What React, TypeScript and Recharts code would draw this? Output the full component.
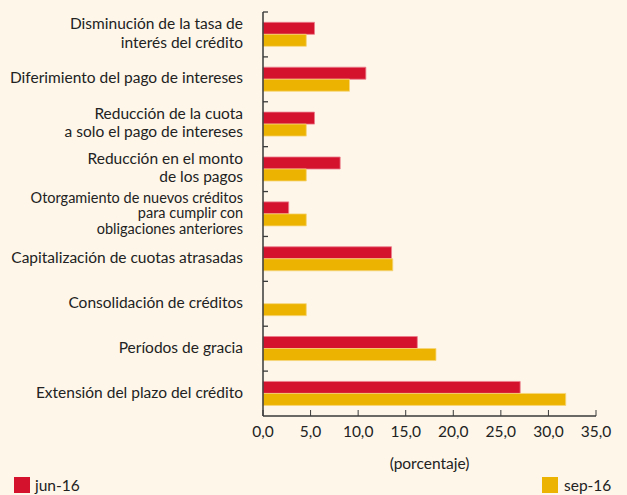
import React from 'react';
import { BarChart, Bar, XAxis, YAxis, Legend } from 'recharts';

const categories = [
  'Disminución de la tasa de\ninterés del crédito',
  'Diferimiento del pago de intereses',
  'Reducción de la cuota\na solo el pago de intereses',
  'Reducción en el monto\nde los pagos',
  'Otorgamiento de nuevos créditos\npara cumplir con\nobligaciones anteriores',
  'Capitalización de cuotas atrasadas',
  'Consolidación de créditos',
  'Períodos de gracia',
  'Extensión del plazo del crédito',
];

const jun16 = [5.41, 10.81, 5.41, 8.11, 2.7, 13.51, 0, 16.22, 27.03];
const sep16 = [4.55, 9.09, 4.55, 4.55, 4.55, 13.64, 4.55, 18.18, 31.82];

const xTicks = [0, 5, 10, 15, 20, 25, 30, 35];

const data = categories.map((name, i) => ({ name, jun: jun16[i], sep: sep16[i] }));

const BG = '#fdf6e9';
const RED = '#d4122e';
const YELLOW = '#edb301';
const AXIS = '#3a3a3a';
const TEXT = '#222';
const FONT = 'Lato, "Open Sans", sans-serif';
const FS = 15.5;
const LABEL_GAP = 20;

// category labels, plus the little ticks on the band boundaries
const CategoryTick = (props: any) => {
  const { x, y, payload } = props;
  const lines = String(payload.value).split('\n');
  const tight = lines.length > 2;
  const lh = tight ? 15.5 : 18.5;
  const y0 = y - 2 - ((lines.length - 1) * lh) / 2;
  const axisX = x + LABEL_GAP;
  const top = y - (payload.offset ?? 0);
  return (
    <g>
      <line x1={axisX} x2={axisX + 5} y1={top} y2={top} stroke={AXIS} strokeWidth={1.3} />
      <text x={x} y={y0} textAnchor="end" fill={TEXT} fontSize={tight ? 14.5 : FS} fontFamily={FONT} dominantBaseline="central">
        {lines.map((l, i) => (
          <tspan key={i} x={x} y={y0 + i * lh}>
            {l}
          </tspan>
        ))}
      </text>
    </g>
  );
};

const fmt = (v: number) => v.toFixed(1).replace('.', ',');

const LegendContent = () => (
  <div style={{ position: 'relative', width: 627, height: 24, fontFamily: FONT, fontSize: FS, color: TEXT }}>
    <div style={{ position: 'absolute', left: 14, top: 5, display: 'flex', alignItems: 'center' }}>
      <span style={{ width: 16, height: 16, background: RED, display: 'inline-block', marginRight: 5 }} />
      jun-16
    </div>
    <div style={{ position: 'absolute', left: 542, top: 5, display: 'flex', alignItems: 'center' }}>
      <span style={{ width: 16, height: 16, background: YELLOW, display: 'inline-block', marginRight: 6 }} />
      sep-16
    </div>
  </div>
);

export default function App() {
  return (
    <div style={{ position: 'absolute', left: 0, top: 0, width: 627, height: 495, background: BG, overflow: 'hidden' }}>
      <BarChart
        width={627}
        height={495}
        data={data}
        layout="vertical"
        margin={{ top: 12, right: 31, left: 0, bottom: 0 }}
        barCategoryGap="23%"
        barGap={0}
      >
        <XAxis
          type="number"
          domain={[0, 35]}
          ticks={xTicks}
          tickFormatter={fmt}
          height={55}
          stroke={AXIS}
          tickSize={-6}
          tickMargin={16}
          tick={{ fill: TEXT, fontSize: FS, fontFamily: FONT }}
          axisLine={{ stroke: AXIS, strokeWidth: 1.5 }}
          label={{ value: '(porcentaje)', position: 'insideBottom', offset: 2, fill: TEXT, fontSize: FS, fontFamily: FONT }}
        />
        <YAxis
          type="category"
          dataKey="name"
          width={263}
          interval={0}
          tickLine={false}
          tickSize={0}
          tickMargin={LABEL_GAP}
          tick={<CategoryTick />}
          axisLine={{ stroke: AXIS, strokeWidth: 1.5 }}
        />
        <Legend verticalAlign="bottom" content={<LegendContent />} wrapperStyle={{ left: 0, width: 627 }} />
        <Bar dataKey="jun" name="jun-16" fill={RED} stroke="#ec7d8c" strokeWidth={0.8} isAnimationActive={false} />
        <Bar dataKey="sep" name="sep-16" fill={YELLOW} stroke="#f6d67a" strokeWidth={0.8} isAnimationActive={false} />
      </BarChart>
    </div>
  );
}
